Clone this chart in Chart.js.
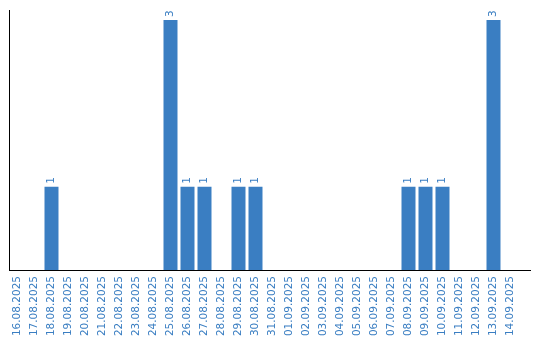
<!DOCTYPE html>
<html>
<head>
<meta charset="utf-8">
<script src="https://cdn.jsdelivr.net/npm/chart.js@4"></script>
<style>
  html, body { margin: 0; padding: 0; background: #fff; }
  canvas { display: block; }
</style>
</head>
<body>
<canvas id="chart" width="540" height="340"></canvas>
<script>
const dates = [
  '16.08.2025', '17.08.2025', '18.08.2025', '19.08.2025', '20.08.2025',
  '21.08.2025', '22.08.2025', '23.08.2025', '24.08.2025', '25.08.2025',
  '26.08.2025', '27.08.2025', '28.08.2025', '29.08.2025', '30.08.2025',
  '31.08.2025', '01.09.2025', '02.09.2025', '03.09.2025', '04.09.2025',
  '05.09.2025', '06.09.2025', '07.09.2025', '08.09.2025', '09.09.2025',
  '10.09.2025', '11.09.2025', '12.09.2025', '13.09.2025', '14.09.2025'
];
const counts = [
  0, 0, 1, 0, 0,
  0, 0, 0, 0, 3,
  1, 1, 0, 1, 1,
  0, 0, 0, 0, 0,
  0, 0, 0, 1, 1,
  1, 0, 0, 3, 0
];

const blue = '#3a7ec2';
const fontFamily = '"DejaVu Sans", Verdana, sans-serif';
const fontSize = 10.5;

// values written above the bars, turned like the axis labels
const barValues = {
  id: 'barValues',
  afterDatasetsDraw(chart) {
    const ctx = chart.ctx;
    const meta = chart.getDatasetMeta(0);
    ctx.save();
    ctx.font = fontSize + 'px ' + fontFamily;
    ctx.fillStyle = blue;
    ctx.textAlign = 'left';
    ctx.textBaseline = 'middle';
    meta.data.forEach((bar, i) => {
      if (!counts[i]) return;
      ctx.save();
      ctx.translate(bar.x, bar.y - 3);
      ctx.rotate(-Math.PI / 2);
      ctx.fillText(String(counts[i]), 0, 0);
      ctx.restore();
    });
    ctx.restore();
  }
};

// the x axis line runs a bit past the last day
const axisTail = {
  id: 'axisTail',
  afterDraw(chart) {
    const { ctx, chartArea } = chart;
    const y = Math.round(chartArea.bottom) + 0.5;
    ctx.save();
    ctx.strokeStyle = '#000';
    ctx.lineWidth = 1;
    ctx.beginPath();
    ctx.moveTo(chartArea.right, y);
    ctx.lineTo(531, y);
    ctx.stroke();
    ctx.restore();
  }
};

new Chart(document.getElementById('chart'), {
  type: 'bar',
  data: {
    labels: dates,
    datasets: [{
      data: counts,
      backgroundColor: blue,
      borderWidth: 0,
      categoryPercentage: 1,
      barPercentage: 0.8235
    }]
  },
  options: {
    responsive: false,
    animation: false,
    devicePixelRatio: 1,
    layout: { padding: { left: 9, right: 21, top: 10, bottom: 0 } },
    plugins: {
      legend: { display: false },
      tooltip: { enabled: false }
    },
    scales: {
      x: {
        grid: { display: false, drawTicks: false, tickLength: 0 },
        border: { display: true, color: '#000', width: 1 },
        ticks: {
          color: blue,
          font: { family: fontFamily, size: fontSize },
          minRotation: 90,
          maxRotation: 90,
          autoSkip: false,
          padding: 6
        },
        afterFit(scale) {
          scale.height = 70;
          scale.paddingLeft = 0;
          scale.paddingRight = 0;
        }
      },
      y: {
        min: 0,
        max: 3.12,
        grid: { display: false },
        border: { display: true, color: '#000', width: 1 },
        ticks: { display: false },
        afterFit(scale) {
          scale.width = 0;
        }
      }
    }
  },
  plugins: [barValues, axisTail]
});
</script>
</body>
</html>
